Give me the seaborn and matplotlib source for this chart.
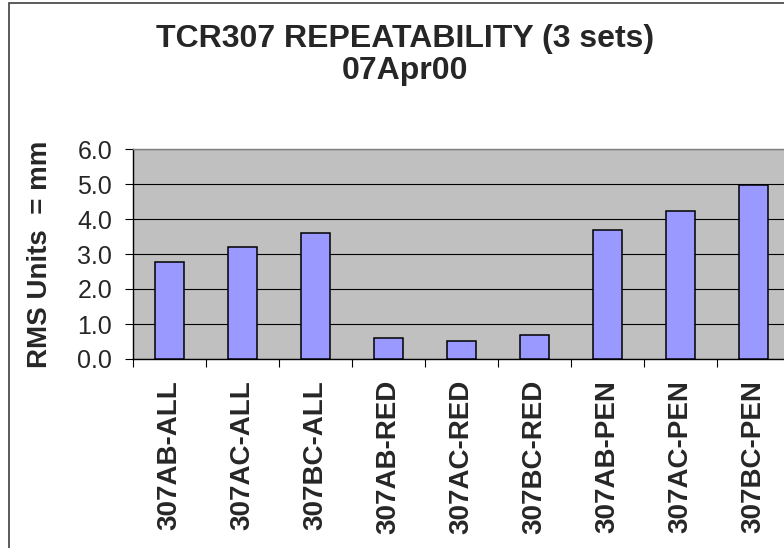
import numpy as np
import pandas as pd
import matplotlib
matplotlib.use("Agg")
import matplotlib.pyplot as plt
import matplotlib.patches as patches
from matplotlib.ticker import FixedLocator
import seaborn as sns

# data
categories = ["307AB-ALL", "307AC-ALL", "307BC-ALL",
              "307AB-RED", "307AC-RED", "307BC-RED",
              "307AB-PEN", "307AC-PEN", "307BC-PEN"]
rms_values = [2.77, 3.19, 3.61, 0.61, 0.51, 0.68, 3.69, 4.23, 4.96]
y_ticks = [0.0, 1.0, 2.0, 3.0, 4.0, 5.0, 6.0]

df = pd.DataFrame({"test": categories, "rms": rms_values})

sns.set_style("white")
plt.rcParams['font.family'] = ['Liberation Sans', 'DejaVu Sans']

fig = plt.figure(figsize=(7.84, 5.48), dpi=100)
ax = fig.add_axes([133 / 784, 189 / 548, 657 / 784, 210 / 548])
ax.set_facecolor("#c0c0c0")

sns.barplot(data=df, x="test", y="rms", color="#9999ff", saturation=1,
            width=0.4, edgecolor="black", linewidth=1.1, ax=ax, zorder=3)

ax.set_ylim(0, 6)
ax.set_xlim(-0.5, len(categories) - 0.5)
ax.set_yticks(y_ticks)
ax.set_yticklabels([f"{t:.1f}" for t in y_ticks], fontsize=18)
ax.grid(axis="y", color="black", linewidth=0.8, zorder=1)
ax.set_axisbelow(True)

# category labels at centres, tick marks between categories
ax.set_xticks(range(len(categories)))
ax.set_xticklabels(categories, rotation=90, fontsize=20, fontweight="bold")
ax.tick_params(axis="x", which="major", length=0, pad=15)
ax.xaxis.set_minor_locator(FixedLocator(np.arange(-0.5, len(categories), 1.0)))
ax.tick_params(axis="x", which="minor", bottom=True, length=6, width=0.8,
               color="black", direction="out")
ax.tick_params(axis="y", left=True, length=6, width=0.8, color="black",
               direction="out", pad=9)

ax.set_xlabel("")
ax.set_ylabel("RMS Units  = mm", fontsize=20, fontweight="bold")
ax.yaxis.set_label_coords(-0.122, 0.5)

for side in ["top", "right"]:
    ax.spines[side].set_color("#808080")
    ax.spines[side].set_linewidth(1.0)
for side in ["left", "bottom"]:
    ax.spines[side].set_color("black")
    ax.spines[side].set_linewidth(1.0)

fig.text(405 / 784, 1 - 24 / 548, "TCR307 REPEATABILITY (3 sets)\n07Apr00",
         ha="center", va="top", fontsize=23, fontweight="bold", linespacing=1.1)

# chart area border
fig.patches.append(patches.Rectangle((9 / 784, -0.1), 1.2, 1.1 - 3 / 548,
                                     transform=fig.transFigure, fill=False,
                                     edgecolor="#404040", linewidth=1.2))

fig.savefig("out.png", dpi=100)
